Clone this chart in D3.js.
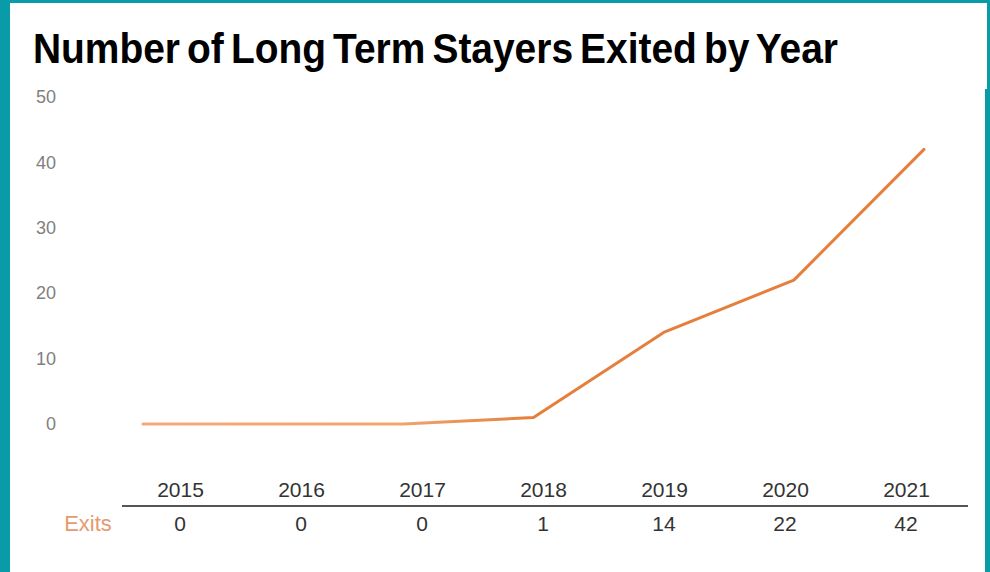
<!DOCTYPE html>
<html>
<head>
<meta charset="utf-8">
<script src="https://cdn.jsdelivr.net/npm/d3@7"></script>
<style>
  html, body { margin: 0; padding: 0; background: #0a9ba8; }
  svg { display: block; }
</style>
</head>
<body>
<svg id="chart"></svg>
<script>
// data
const years = ["2015", "2016", "2017", "2018", "2019", "2020", "2021"];
const exits = [0, 0, 0, 1, 14, 22, 42];
const yTicks = [0, 10, 20, 30, 40, 50];
const title = "Number of Long Term Stayers Exited by Year";
const rowLabel = "Exits";

const width = 990, height = 572;
const font = "'Liberation Sans', Arial, sans-serif";

const svg = d3.select("#chart")
    .attr("width", width)
    .attr("height", height);

// teal frame with white panels
svg.append("rect").attr("x", 0).attr("y", 0).attr("width", width).attr("height", height).attr("fill", "#0a9ba8");
svg.append("rect").attr("x", 10).attr("y", 3).attr("width", 977).attr("height", 86).attr("fill", "#fff");
svg.append("rect").attr("x", 10).attr("y", 88).attr("width", 975).attr("height", 484).attr("fill", "#fff");

svg.append("text")
    .attr("x", 33)
    .attr("y", 63)
    .attr("textLength", 805)
    .attr("lengthAdjust", "spacingAndGlyphs")
    .style("font-family", font)
    .style("font-weight", "bold")
    .style("font-size", "42px")
    .style("word-spacing", "-4px")
    .attr("fill", "#000")
    .text(title);

const y = d3.scaleLinear()
    .domain([0, 50])
    .range([424, 97]);

const x = d3.scalePoint()
    .domain(years)
    .range([143, 924]);

// table columns sit on a slightly narrower spacing than the line
const xt = d3.scalePoint()
    .domain(years)
    .range([180, 906]);

// y axis labels only
const yAxis = svg.append("g")
    .attr("transform", "translate(56,0)")
    .call(d3.axisLeft(y).tickValues(yTicks).tickSize(0).tickPadding(0));
yAxis.select(".domain").remove();
yAxis.selectAll("text")
    .style("font-family", font)
    .style("font-size", "18px")
    .attr("fill", "#808080");

const data = years.map((d, i) => ({ year: d, value: exits[i] }));

// flat early part of the line is paler in the original
const grad = svg.append("defs").append("linearGradient")
    .attr("id", "lineGrad")
    .attr("gradientUnits", "userSpaceOnUse")
    .attr("x1", x("2015")).attr("x2", x("2018"))
    .attr("y1", 0).attr("y2", 0);
grad.append("stop").attr("offset", "0%").attr("stop-color", "#f2ab78");
grad.append("stop").attr("offset", "65%").attr("stop-color", "#f0a56f");
grad.append("stop").attr("offset", "100%").attr("stop-color", "#e57f3c");

const line = d3.line()
    .x(d => x(d.year))
    .y(d => y(d.value));

svg.append("path")
    .datum(data)
    .attr("d", line)
    .attr("fill", "none")
    .attr("stroke", "url(#lineGrad)")
    .attr("stroke-width", 3)
    .attr("stroke-linejoin", "round")
    .attr("stroke-linecap", "round");

// table under the chart
const xAxis = svg.append("g")
    .attr("transform", "translate(0,506)")
    .call(d3.axisTop(xt).tickSize(0).tickPadding(9));
xAxis.select(".domain")
    .attr("d", "M122,0H968")
    .attr("stroke", "#555")
    .attr("stroke-width", 2);
xAxis.selectAll("text")
    .style("font-family", font)
    .style("font-size", "21px")
    .attr("fill", "#333");

svg.append("g")
    .selectAll("text")
    .data(data)
    .enter()
    .append("text")
    .attr("x", d => xt(d.year))
    .attr("y", 531)
    .attr("text-anchor", "middle")
    .style("font-family", font)
    .style("font-size", "21px")
    .attr("fill", "#333")
    .text(d => d.value);

svg.append("text")
    .attr("x", 88)
    .attr("y", 531)
    .attr("text-anchor", "middle")
    .style("font-family", font)
    .style("font-size", "22px")
    .attr("fill", "#e59a70")
    .text(rowLabel);
</script>
</body>
</html>
